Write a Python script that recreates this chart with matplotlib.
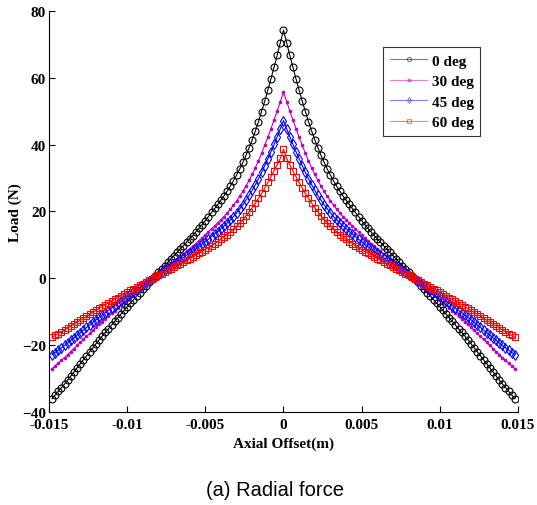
import numpy as np
import matplotlib
matplotlib.use("Agg")
import matplotlib.pyplot as plt

# radial load (N) vs axial offset, one value per sample from -0.0148 m to 0.0148 m
load_0deg = [
    -36.0, -34.9, -33.8, -32.7, -31.6, -30.4, -29.2, -28.0, -26.8, -25.6, -24.4, -23.2, -22.0, -20.8, -19.6,
    -18.4, -17.3, -16.2, -15.1, -14.0, -12.9, -11.8, -10.7, -9.6, -8.5, -7.4, -6.4, -5.3, -4.3, -3.2, -2.2,
    -1.2, -0.2, 0.8, 1.8, 2.8, 3.8, 4.8, 5.8, 6.8, 7.8, 8.8, 9.8, 10.8, 11.8, 12.8, 13.9, 15.0, 16.1, 17.3,
    18.5, 19.7, 20.9, 22.1, 23.4, 24.7, 26.1, 27.6, 29.2, 30.9, 32.7, 34.7, 36.8, 39.1, 41.5, 44.1, 46.9,
    49.9, 53.0, 56.3, 59.7, 63.2, 66.8, 70.5,
    74.3,
    70.5, 66.8, 63.2, 59.7, 56.3, 53.0, 49.9, 46.9, 44.1, 41.5, 39.1, 36.8, 34.7, 32.7, 30.9, 29.2, 27.6,
    26.1, 24.7, 23.4, 22.1, 20.9, 19.7, 18.5, 17.3, 16.1, 15.0, 13.9, 12.8, 11.8, 10.8, 9.8, 8.8, 7.8, 6.8,
    5.8, 4.8, 3.8, 2.8, 1.8, 0.8, -0.2, -1.2, -2.2, -3.2, -4.3, -5.3, -6.4, -7.4, -8.5, -9.6, -10.7, -11.8,
    -12.9, -14.0, -15.1, -16.2, -17.3, -18.4, -19.6, -20.8, -22.0, -23.2, -24.4, -25.6, -26.8, -28.0, -29.2,
    -30.4, -31.6, -32.7, -33.8, -34.9, -36.0,
]
load_30deg = [
    -27.0, -26.2, -25.4, -24.5, -23.7, -22.8, -21.9, -21.0, -20.1, -19.2, -18.3, -17.4, -16.5, -15.6, -14.7,
    -13.8, -13.0, -12.2, -11.3, -10.5, -9.7, -8.9, -8.0, -7.2, -6.4, -5.6, -4.8, -4.0, -3.2, -2.4, -1.7,
    -0.9, -0.2, 0.6, 1.4, 2.1, 2.9, 3.6, 4.4, 5.1, 5.9, 6.6, 7.4, 8.1, 8.9, 9.6, 10.4, 11.3, 12.1, 13.0,
    13.9, 14.8, 15.7, 16.6, 17.6, 18.5, 19.6, 20.7, 21.9, 23.2, 24.5, 26.0, 27.6, 29.3, 31.1, 33.1, 35.2,
    37.4, 39.8, 42.2, 44.8, 47.4, 50.1, 52.9,
    55.7,
    52.9, 50.1, 47.4, 44.8, 42.2, 39.8, 37.4, 35.2, 33.1, 31.1, 29.3, 27.6, 26.0, 24.5, 23.2, 21.9, 20.7,
    19.6, 18.5, 17.6, 16.6, 15.7, 14.8, 13.9, 13.0, 12.1, 11.3, 10.4, 9.6, 8.9, 8.1, 7.4, 6.6, 5.9, 5.1,
    4.4, 3.6, 2.9, 2.1, 1.4, 0.6, -0.2, -0.9, -1.7, -2.4, -3.2, -4.0, -4.8, -5.6, -6.4, -7.2, -8.0, -8.9,
    -9.7, -10.5, -11.3, -12.2, -13.0, -13.8, -14.7, -15.6, -16.5, -17.4, -18.3, -19.2, -20.1, -21.0, -21.9,
    -22.8, -23.7, -24.5, -25.4, -26.2, -27.0,
]
load_45deg = [
    -22.8, -22.2, -21.5, -20.8, -20.1, -19.3, -18.5, -17.8, -17.0, -16.3, -15.5, -14.7, -14.0, -13.2, -12.4,
    -11.7, -11.0, -10.3, -9.6, -8.9, -8.2, -7.5, -6.8, -6.1, -5.4, -4.7, -4.1, -3.4, -2.7, -2.0, -1.4,
    -0.8, -0.1, 0.5, 1.1, 1.8, 2.4, 3.0, 3.7, 4.3, 5.0, 5.6, 6.2, 6.9, 7.5, 8.1, 8.8, 9.5, 10.2, 11.0,
    11.7, 12.5, 13.3, 14.0, 14.9, 15.7, 16.6, 17.5, 18.5, 19.6, 20.8, 22.0, 23.4, 24.8, 26.4, 28.0, 29.8,
    31.7, 33.7, 35.8, 37.9, 40.1, 42.4, 44.8,
    47.2,
    44.8, 42.4, 40.1, 37.9, 35.8, 33.7, 31.7, 29.8, 28.0, 26.4, 24.8, 23.4, 22.0, 20.8, 19.6, 18.5, 17.5,
    16.6, 15.7, 14.9, 14.0, 13.3, 12.5, 11.7, 11.0, 10.2, 9.5, 8.8, 8.1, 7.5, 6.9, 6.2, 5.6, 5.0, 4.3,
    3.7, 3.0, 2.4, 1.8, 1.1, 0.5, -0.1, -0.8, -1.4, -2.0, -2.7, -3.4, -4.1, -4.7, -5.4, -6.1, -6.8, -7.5,
    -8.2, -8.9, -9.6, -10.3, -11.0, -11.7, -12.4, -13.2, -14.0, -14.7, -15.5, -16.3, -17.0, -17.8, -18.5,
    -19.3, -20.1, -20.8, -21.5, -22.2, -22.8,
]
load_60deg = [
    -17.7, -17.1, -16.6, -16.0, -15.5, -14.9, -14.3, -13.7, -13.1, -12.5, -12.0, -11.4, -10.8, -10.2, -9.6,
    -9.0, -8.5, -7.9, -7.4, -6.9, -6.3, -5.8, -5.2, -4.7, -4.2, -3.6, -3.1, -2.6, -2.1, -1.6, -1.1,
    -0.6, -0.1, 0.4, 0.9, 1.4, 1.9, 2.4, 2.9, 3.4, 3.9, 4.4, 4.9, 5.4, 5.9, 6.4, 6.9, 7.5, 8.0, 8.6,
    9.2, 9.8, 10.4, 11.0, 11.7, 12.4, 13.1, 13.9, 14.7, 15.6, 16.6, 17.6, 18.7, 19.9, 21.1, 22.5, 23.9,
    25.4, 27.0, 28.7, 30.4, 32.2, 34.0, 35.9,
    38.6,
    35.9, 34.0, 32.2, 30.4, 28.7, 27.0, 25.4, 23.9, 22.5, 21.1, 19.9, 18.7, 17.6, 16.6, 15.6, 14.7, 13.9,
    13.1, 12.4, 11.7, 11.0, 10.4, 9.8, 9.2, 8.6, 8.0, 7.5, 6.9, 6.4, 5.9, 5.4, 4.9, 4.4, 3.9, 3.4,
    2.9, 2.4, 1.9, 1.4, 0.9, 0.4, -0.1, -0.6, -1.1, -1.6, -2.1, -2.6, -3.1, -3.6, -4.2, -4.7, -5.2, -5.8,
    -6.3, -6.9, -7.4, -7.9, -8.5, -9.0, -9.6, -10.2, -10.8, -11.4, -12.0, -12.5, -13.1, -13.7, -14.3,
    -14.9, -15.5, -16.0, -16.6, -17.1, -17.7,
]
labels = ["0 deg", "30 deg", "45 deg", "60 deg"]

offset = np.linspace(-0.0148, 0.0148, len(load_0deg))

plt.rcParams["font.family"] = ["Liberation Serif", "DejaVu Serif"]

fig = plt.figure(figsize=(5.37, 5.06), dpi=100)
ax = fig.add_axes([0.0912, 0.1838, 0.8734, 0.7925])

ax.plot(offset, load_0deg, color="black", lw=0.8, marker="o", ms=5, mfc="none", mew=0.8, label=labels[0])
ax.plot(offset, load_30deg, color="#c000c0", lw=0.8, marker="o", ms=2.6, mew=0, label=labels[1])
ax.plot(offset, load_45deg, color="blue", lw=0.8, marker="d", ms=5, mfc="none", mew=0.8, label=labels[2])
ax.plot(offset, load_60deg, color="red", lw=0.8, marker="s", ms=5, mfc="none", mew=0.8, label=labels[3])

ax.set_xlim(-0.015, 0.015)
ax.set_ylim(-40, 80)
ax.set_xticks([-0.015, -0.01, -0.005, 0, 0.005, 0.01, 0.015])
ax.set_xticklabels(["-0.015", "-0.01", "-0.005", "0", "0.005", "0.01", "0.015"])
ax.set_yticks([-40, -20, 0, 20, 40, 60, 80])
ax.tick_params(direction="in", length=4, width=0.8, labelsize=11)
ax.tick_params(axis="x", pad=4)
ax.tick_params(axis="y", pad=2)
for lab in ax.get_xticklabels() + ax.get_yticklabels():
    lab.set_fontweight("bold")
ax.spines["top"].set_visible(False)
ax.spines["right"].set_visible(False)

ax.set_xlabel("Axial Offset(m)", fontsize=11, fontweight="bold", labelpad=4)
ax.set_ylabel("Load (N)", fontsize=11, fontweight="bold", labelpad=0)

leg = ax.legend(loc="upper right", bbox_to_anchor=(0.92, 0.91), borderaxespad=0, fancybox=False,
                edgecolor="black", prop={"weight": "bold", "size": 11}, handlelength=2.4,
                labelspacing=0.45, borderpad=0.45, handletextpad=0.3)
leg.get_frame().set_linewidth(0.8)
for h in leg.legend_handles:
    h.set_alpha(0.5)
    h.set_markersize(3)

fig.text(0.512, 0.012, "(a) Radial force", family="Liberation Sans", fontsize=14.5, ha="center", va="bottom")

fig.savefig("out.png", dpi=100)
